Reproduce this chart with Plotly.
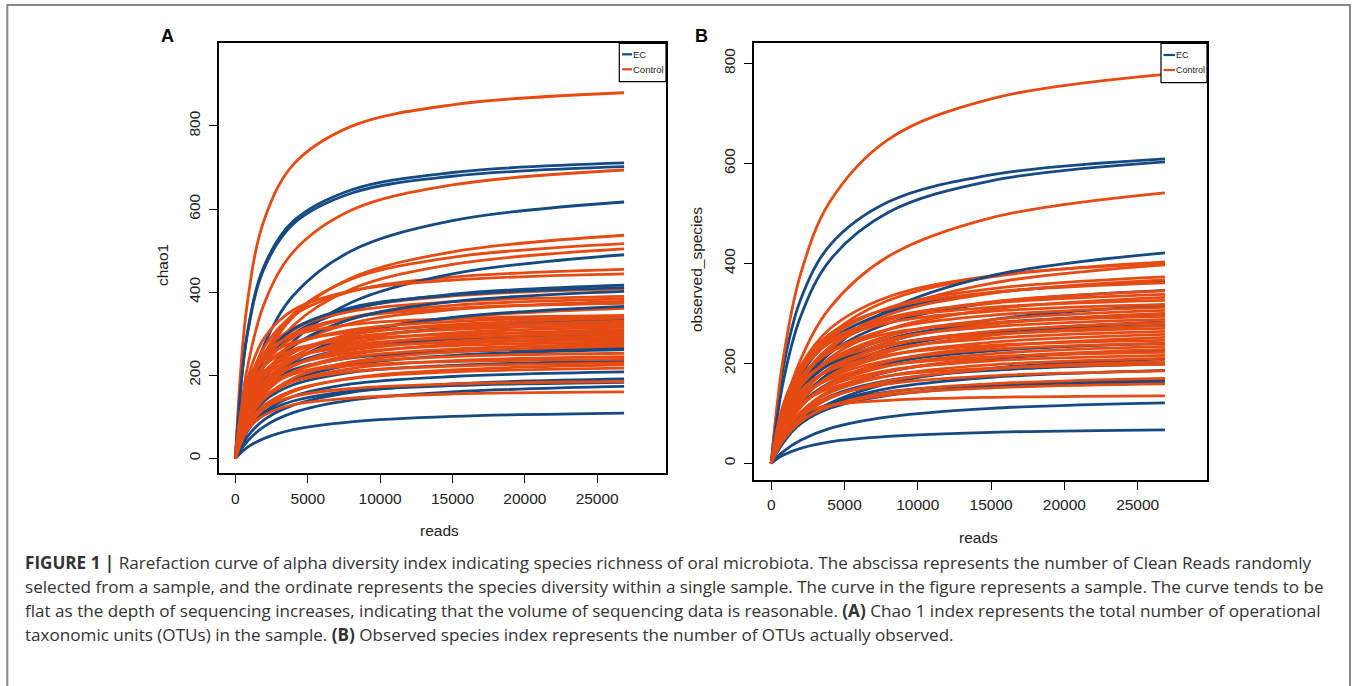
import plotly.graph_objects as go

# ---------------- data ----------------
reads = [0, 800, 2000, 4000, 8000, 15000, 26860]
x_ticks = [0, 5000, 10000, 15000, 20000, 25000]
x_tick_labels = ["0", "5000", "10000", "15000", "20000", "25000"]
chao1_ticks = [0, 200, 400, 600, 800]
obs_ticks = [0, 200, 400, 600, 800]

chao1_ec = [
    [0, 297, 464, 571, 646, 688, 711],
    [0, 293, 458, 564, 638, 679, 702],
    [0, 144, 274, 392, 499, 572, 617],
    [0, 94, 188, 282, 375, 444, 490],
    [0, 128, 224, 299, 358, 395, 417],
    [0, 145, 242, 311, 363, 393, 411],
    [0, 107, 195, 270, 335, 377, 402],
    [0, 86, 163, 232, 296, 339, 366],
    [0, 102, 178, 237, 285, 314, 331],
    [0, 106, 177, 227, 265, 287, 300],
    [0, 111, 174, 214, 242, 257, 266],
    [0, 80, 141, 188, 225, 248, 262],
    [0, 83, 138, 177, 207, 224, 234],
    [0, 64, 112, 149, 179, 197, 208],
    [0, 51, 93, 128, 159, 179, 191],
    [0, 65, 108, 138, 162, 175, 183],
    [0, 40, 77, 110, 140, 160, 173],
    [0, 26, 48, 69, 88, 101, 109],
]

chao1_control = [
    [0, 368, 575, 707, 799, 851, 880],
    [0, 213, 373, 497, 597, 658, 694],
    [0, 126, 239, 341, 434, 497, 537],
    [0, 137, 251, 348, 431, 484, 517],
    [0, 118, 224, 320, 407, 467, 504],
    [0, 161, 268, 344, 402, 436, 455],
    [0, 186, 290, 357, 403, 429, 444],
    [0, 144, 240, 309, 360, 391, 408],
    [0, 163, 255, 313, 354, 377, 390],
    [0, 136, 226, 291, 339, 368, 384],
    [0, 116, 203, 271, 325, 358, 378],
    [0, 156, 244, 300, 339, 361, 373],
    [0, 96, 175, 243, 301, 338, 361],
    [0, 177, 253, 295, 322, 336, 344],
    [0, 142, 222, 273, 309, 329, 340],
    [0, 119, 198, 254, 297, 322, 336],
    [0, 101, 177, 236, 284, 313, 330],
    [0, 167, 239, 279, 304, 318, 325],
    [0, 134, 209, 257, 291, 310, 320],
    [0, 111, 185, 238, 278, 302, 315],
    [0, 95, 167, 222, 266, 294, 310],
    [0, 157, 224, 262, 286, 298, 305],
    [0, 125, 196, 241, 273, 290, 300],
    [0, 104, 174, 223, 260, 282, 295],
    [0, 89, 156, 208, 249, 275, 290],
    [0, 147, 210, 245, 267, 279, 285],
    [0, 117, 183, 225, 254, 271, 280],
    [0, 97, 162, 208, 243, 263, 275],
    [0, 83, 145, 193, 232, 256, 270],
    [0, 106, 165, 203, 230, 245, 253],
    [0, 87, 144, 185, 216, 235, 245],
    [0, 123, 175, 204, 223, 233, 238],
    [0, 96, 150, 185, 209, 222, 230],
    [0, 69, 121, 161, 193, 213, 225],
    [0, 77, 128, 164, 192, 208, 217],
    [0, 77, 121, 149, 168, 179, 185],
    [0, 67, 104, 129, 145, 155, 160],
]

obs_ec = [
    [0, 187, 327, 436, 523, 577, 609],
    [0, 160, 293, 406, 502, 565, 603],
    [0, 69, 143, 222, 307, 375, 421],
    [0, 96, 177, 245, 303, 341, 364],
    [0, 81, 154, 220, 280, 321, 346],
    [0, 61, 121, 182, 242, 287, 316],
    [0, 79, 145, 201, 249, 280, 299],
    [0, 66, 126, 180, 229, 262, 283],
    [0, 85, 148, 198, 237, 262, 276],
    [0, 64, 117, 161, 200, 225, 240],
    [0, 53, 100, 144, 183, 209, 226],
    [0, 40, 80, 120, 160, 190, 209],
    [0, 53, 97, 134, 166, 186, 199],
    [0, 44, 83, 118, 150, 172, 186],
    [0, 51, 89, 119, 143, 157, 166],
    [0, 43, 79, 110, 136, 153, 163],
    [0, 23, 46, 70, 93, 110, 121],
    [0, 16, 30, 43, 54, 62, 67],
]

obs_control = [
    [0, 206, 378, 523, 648, 729, 778],
    [0, 104, 207, 311, 414, 491, 541],
    [0, 94, 179, 256, 326, 373, 403],
    [0, 106, 194, 269, 333, 375, 400],
    [0, 76, 152, 228, 304, 360, 397],
    [0, 99, 181, 251, 311, 349, 373],
    [0, 86, 163, 233, 297, 340, 367],
    [0, 111, 194, 259, 310, 342, 361],
    [0, 91, 168, 232, 287, 323, 345],
    [0, 104, 182, 242, 291, 320, 338],
    [0, 78, 148, 211, 268, 308, 332],
    [0, 115, 192, 247, 288, 312, 326],
    [0, 112, 187, 241, 281, 304, 318],
    [0, 96, 168, 223, 268, 296, 312],
    [0, 81, 149, 206, 255, 287, 306],
    [0, 70, 133, 191, 243, 278, 300],
    [0, 104, 173, 222, 260, 281, 294],
    [0, 88, 155, 206, 248, 273, 288],
    [0, 75, 137, 190, 235, 264, 282],
    [0, 65, 123, 175, 223, 256, 276],
    [0, 95, 159, 204, 238, 258, 270],
    [0, 81, 142, 189, 227, 250, 264],
    [0, 68, 125, 174, 215, 242, 258],
    [0, 59, 112, 160, 204, 233, 252],
    [0, 87, 145, 186, 217, 236, 246],
    [0, 74, 129, 172, 206, 228, 240],
    [0, 62, 114, 157, 195, 219, 234],
    [0, 53, 101, 145, 184, 211, 228],
    [0, 78, 131, 168, 196, 213, 222],
    [0, 66, 116, 155, 186, 205, 216],
    [0, 56, 102, 141, 175, 197, 210],
    [0, 48, 91, 130, 165, 189, 204],
    [0, 70, 117, 150, 175, 190, 198],
    [0, 57, 99, 133, 159, 175, 185],
    [0, 45, 83, 114, 142, 159, 170],
    [0, 49, 85, 114, 137, 151, 159],
    [0, 70, 99, 116, 126, 132, 135],
]

groups = ["EC", "Control"]
caption_lines = [
    "<b>FIGURE 1 |</b> Rarefaction curve of alpha diversity index indicating species richness of oral microbiota. The abscissa represents the number of Clean Reads randomly",
    "selected from a sample, and the ordinate represents the species diversity within a single sample. The curve in the figure represents a sample. The curve tends to be",
    "flat as the depth of sequencing increases, indicating that the volume of sequencing data is reasonable. <b>(A)</b> Chao 1 index represents the total number of operational",
    "taxonomic units (OTUs) in the sample. <b>(B)</b> Observed species index represents the number of OTUs actually observed.",
]

# ---------------- style ----------------
W, H = 1357, 686
BLUE = "#164a83"
ORANGE = "#e54b13"
FONT = "Liberation Sans, Arial, sans-serif"
CAP_FONT = "Open Sans, Liberation Sans, sans-serif"
LW = 2.8


def fx(px):
    return px / W


def fy(py):
    return 1 - py / H


fig = go.Figure()


def add_panel(ec, ctrl, xa, ya):
    order = []
    ci = 0
    for i in range(len(ec)):
        order.append(("b", i))
        for _ in range(2):
            if ci < len(ctrl):
                order.append(("o", ci))
                ci += 1
    while ci < len(ctrl):
        order.append(("o", ci))
        ci += 1
    for kind, i in order:
        vals = ec[i] if kind == "b" else ctrl[i]
        fig.add_trace(go.Scatter(
            x=reads, y=vals, mode="lines",
            line=dict(color=BLUE if kind == "b" else ORANGE, width=LW, shape="spline"),
            xaxis=xa, yaxis=ya, showlegend=False, hoverinfo="skip"))


add_panel(chao1_ec, chao1_control, "x", "y")
add_panel(obs_ec, obs_control, "x2", "y2")

# panel boxes in pixels
A = dict(l=218.5, r=666, t=43.3, b=473.3)
B = dict(l=754, r=1207, t=43.3, b=480)

axis_common = dict(showgrid=False, zeroline=False, showline=True, mirror=True,
                   linecolor="black", linewidth=1.5, ticks="outside", ticklen=8,
                   tickwidth=1.3, tickcolor="black",
                   tickfont=dict(family=FONT, size=15.5, color="#222"))

fig.update_layout(
    width=W, height=H, margin=dict(l=0, r=0, t=0, b=0),
    paper_bgcolor="white", plot_bgcolor="white", showlegend=False,
    xaxis=dict(domain=[fx(A["l"]), fx(A["r"])], range=[-1168, 29756],
               tickvals=x_ticks, ticktext=x_tick_labels, ticklabelstandoff=2,
               anchor="y", **axis_common),
    yaxis=dict(domain=[fy(A["b"]), fy(A["t"])], range=[-36, 999],
               tickvals=chao1_ticks, tickangle=-90, ticklabelstandoff=3, anchor="x", **axis_common),
    xaxis2=dict(domain=[fx(B["l"]), fx(B["r"])], range=[-1174, 29729],
                tickvals=x_ticks, ticktext=x_tick_labels, ticklabelstandoff=2,
                anchor="y2", **axis_common),
    yaxis2=dict(domain=[fy(B["b"]), fy(B["t"])], range=[-33.4, 840],
                tickvals=obs_ticks, tickangle=-90, ticklabelstandoff=3, anchor="x2", **axis_common),
)

shapes = []
annotations = []

# outer frame
shapes.append(dict(type="rect", xref="paper", yref="paper",
                   x0=fx(7.3), x1=fx(1350), y0=fy(700), y1=fy(5),
                   line=dict(color="#8a8a8a", width=2), fillcolor="rgba(0,0,0,0)"))


def legend(box, ec_y, ct_y, lx0, lx1, tx, fs):
    shapes.append(dict(type="rect", xref="paper", yref="paper",
                       x0=fx(box[0]), x1=fx(box[1]), y0=fy(box[3]), y1=fy(box[2]),
                       line=dict(color="black", width=1.2), fillcolor="white"))
    for yy, col, name in [(ec_y, BLUE, groups[0]), (ct_y, ORANGE, groups[1])]:
        shapes.append(dict(type="line", xref="paper", yref="paper",
                           x0=fx(lx0), x1=fx(lx1), y0=fy(yy), y1=fy(yy),
                           line=dict(color=col, width=2.2)))
        annotations.append(dict(text=name, xref="paper", yref="paper", x=fx(tx), y=fy(yy),
                                xanchor="left", yanchor="middle", showarrow=False,
                                borderpad=0, font=dict(family=FONT, size=fs, color="#222")))


legend((619.3, 666, 43.3, 81.7), 54.3, 69.3, 622, 632, 632, 9.5)
legend((1161, 1207, 43.3, 82.7), 55, 70, 1163.5, 1175, 1175, 9.0)

# panel letters
for txt, px, py in [("A", 167, 35.7), ("B", 701.4, 35.7)]:
    annotations.append(dict(text="<b>%s</b>" % txt, xref="paper", yref="paper",
                            x=fx(px), y=fy(py), xanchor="center", yanchor="middle",
                            showarrow=False, font=dict(family=FONT, size=18, color="black")))

# axis titles
for txt, px, py, ang in [("reads", 440, 530, 0), ("reads", 978, 537, 0),
                         ("chao1", 163, 265, -90), ("observed_species", 696, 270, -90)]:
    annotations.append(dict(text=txt, xref="paper", yref="paper", x=fx(px), y=fy(py),
                            xanchor="center", yanchor="middle", textangle=ang,
                            showarrow=False, font=dict(family=FONT, size=15.5, color="#222")))

# caption
for i, line in enumerate(caption_lines):
    annotations.append(dict(text=line, xref="paper", yref="paper", x=fx(24), y=fy(562 + 24 * i),
                            xanchor="left", yanchor="middle", showarrow=False, borderpad=0,
                            font=dict(family=CAP_FONT, size=17.1, color="#333")))

fig.update_layout(shapes=shapes, annotations=annotations)
fig.write_html("out.html", config={"displayModeBar": False},
               post_script="document.body.style.margin='0';document.body.style.padding='0';")
